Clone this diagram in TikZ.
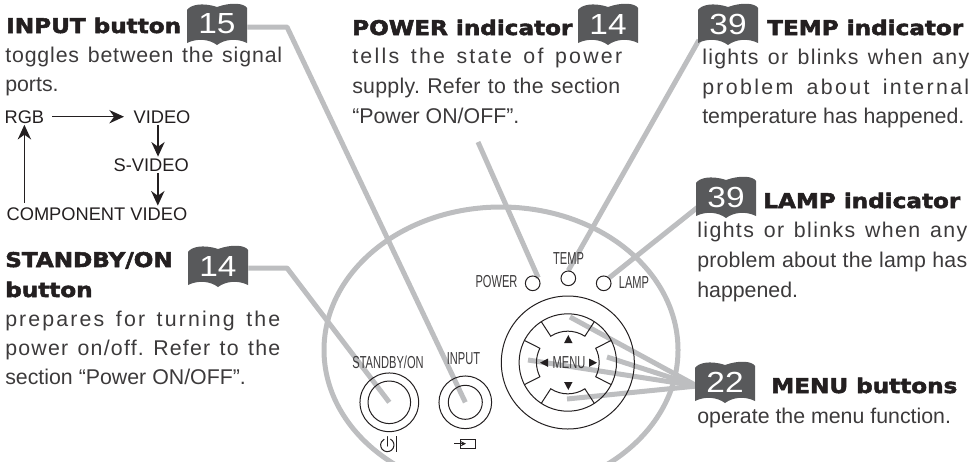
\documentclass[tikz,border=0pt]{standalone}
\usepackage{fontspec}
\setmainfont{Liberation Sans}
\newfontfamily\headfont[FakeStretch=1.14,FakeBold=2.6]{DejaVu Sans}
\newfontfamily\narrowfont[FakeStretch=0.64]{Liberation Sans}
\newfontfamily\numfont[FakeStretch=1.15]{Liberation Sans}
\usetikzlibrary{positioning, shapes, arrows.meta}
\usetikzlibrary{backgrounds}
\definecolor{leadergray}{HTML}{BDBEC0}
\definecolor{bookgray}{HTML}{58595B}
\definecolor{inkblack}{HTML}{231F20}
\definecolor{bodygray}{HTML}{3C3A3B}
% stretched line of body text: width in pixels, letter spacing, text
\newcommand{\jline}[3]{\makebox[\dimexpr #1pt*3/4\relax][s]{\addfontfeature{LetterSpace=#2}#3}}
\tikzset{
    headtext/.style={anchor=base west, inner sep=0pt, text=inkblack, font=\headfont\bfseries\fontsize{15.2}{15.2}\selectfont},
    bodytext/.style={anchor=base west, inner sep=0pt, text=bodygray, font=\frenchspacing\fontsize{16}{16}\selectfont},
    flowtext/.style={anchor=base west, inner sep=1pt, text=inkblack, font=\fontsize{13.7}{13.7}\selectfont},
    paneltext/.style={anchor=center, inner sep=0pt, text=bodygray, font=\narrowfont\fontsize{13}{13}\selectfont},
    booknum/.style={inner sep=0pt, minimum width=45pt, minimum height=32pt, text=white, font=\numfont\fontsize{21.8}{21.8}\selectfont},
    leader/.style={draw=leadergray, line width=3.75pt, line join=round},
    flowarrow/.style={draw=inkblack, line width=1.1pt, -{Stealth[length=11pt,width=10pt]}},
    led/.style={draw=inkblack, circle, line width=0.75pt, inner sep=0pt, minimum size=11pt},
    panel/.style={draw=inkblack, line width=0.75pt}
}
\begin{document}
\begin{tikzpicture}[x=0.75pt, y=-0.75pt]
    \useasboundingbox (0,0) rectangle (980,461);

    % Page reference books
    \foreach \bookname/\bookx/\booky/\booklabel in {bookinput/187/2/15, bookpower/578/2/14, booktemp/698/2/39, booklamp/696/175/39, bookmenu/695/360/22, bookstandby/188/244/14} {
        \begin{scope}[shift={(\bookx,\booky)}]
            \fill[bookgray] (0,41) -- (0,8) .. controls (3,3) and (15,0) .. (30,5) .. controls (44,0) and (57,1) .. (60,6) -- (60,41)
                .. controls (50,36) and (38,37) .. (30,43) .. controls (22,37) and (10,36) .. (0,41) -- cycle;
            \node[booknum] (\bookname) at (30,22) {\booklabel};
        \end{scope}
    }

    % Headings
    \node[headtext] (headinput) at (6,33) {INPUT button};
    \node[headtext] (headpower) at (352,35) {POWER indicator};
    \node[headtext] (headtemp) at (767,35) {TEMP indicator};
    \node[headtext] (headlamp) at (763,208) {LAMP indicator};
    \node[headtext] (headmenu) at (771,393) {MENU buttons};
    \node[headtext] (headstandby) at (5,267) {STANDBY/ON};
    \node[headtext] (headbutton) at (5,297) {button};

    % Descriptions
    \node[bodytext] (input1) at (5,62) {\jline{277}{4}{toggles between the signal}};
    \node[bodytext] (input2) at (5,91) {ports.};
    \node[bodytext] (power1) at (352,63) {\jline{270}{10.7}{tells the state of power}};
    \node[bodytext] (power2) at (352,93) {\jline{268}{1.3}{supply. Refer to the section}};
    \node[bodytext] (power3) at (352,123) {“Power ON/OFF”.};
    \node[bodytext] (temp1) at (702,64) {\jline{267}{6}{lights or blinks when any}};
    \node[bodytext] (temp2) at (702,94) {\jline{267}{11}{problem about internal}};
    \node[bodytext] (temp3) at (702,123) {temperature has happened.};
    \node[bodytext] (lamp1) at (697,237) {\jline{270}{6.5}{lights or blinks when any}};
    \node[bodytext] (lamp2) at (697,267) {\jline{270}{1}{problem about the lamp has}};
    \node[bodytext] (lamp3) at (697,297) {happened.};
    \node[bodytext] (menu1) at (697,423) {operate the menu function.};
    \node[bodytext] (standby1) at (5,326) {\jline{275}{10}{prepares for turning the}};
    \node[bodytext] (standby2) at (5,355) {\jline{275}{5.7}{power on/off. Refer to the}};
    \node[bodytext] (standby3) at (5,384) {section “Power ON/OFF”.};

    % Signal order
    \node[flowtext] (rgb) at (3,123) {RGB};
    \node[flowtext] (video) at (132,123) {VIDEO};
    \node[flowtext] (svideo) at (112,171) {S-VIDEO};
    \node[flowtext] (component) at (5,220) {COMPONENT VIDEO};
    \draw[flowarrow, shorten <=5pt, shorten >=6pt] (rgb) -- (video);
    \draw[flowarrow] ([xshift=-3pt]video.south) -- ([xshift=-3pt]video.south |- svideo.north);
    \draw[flowarrow] ([xshift=5pt]svideo.south) -- ([xshift=5pt]svideo.south |- component.north);
    \draw[flowarrow, shorten <=2pt] (rgb.south |- component.north) -- (rgb.south);

    % Control panel
    \node[paneltext] (labelpower) at (496.5,282) {POWER};
    \node[paneltext] (labeltemp) at (568.5,259) {TEMP};
    \node[paneltext] (labellamp) at (634,283) {LAMP};
    \node[paneltext] (labelstandby) at (388,362) {STANDBY/ON};
    \node[paneltext] (labelinput) at (463.5,359) {INPUT};
    \node[paneltext] (labelmenu) at (569,363) {MENU};

    \node[led] (powerled) at (532.7,283.3) {};
    \node[led] (templed) at (568.3,278.3) {};
    \node[led] (lampled) at (603.7,283.3) {};

    \node[panel, circle, inner sep=0pt, minimum size=44pt] (standbybtn) at (389.3,402.3) {};
    \draw[panel] (standbybtn) circle (21.3);
    \node[panel, circle, inner sep=0pt, minimum size=39.5pt] (inputbtn) at (465.3,402.3) {};
    \draw[panel] (inputbtn) circle (17);

    % Menu pad
    \node[panel, circle, inner sep=0pt, minimum size=99.75pt] (menupad) at (567.8,362.5) {};
    \draw[panel] (menupad) circle (48.7);
    \foreach \padangle/\padspan in {90/33, 270/33, 0/27, 180/27} {
        \draw[panel] ([shift={(\padangle-\padspan:36.5pt)}]menupad.center) -- ([shift={(\padangle-\padspan:23.5pt)}]menupad.center)
            arc[start angle=\padangle-\padspan, end angle=\padangle+\padspan, radius=23.5pt] -- ([shift={(\padangle+\padspan:36.5pt)}]menupad.center);
    }
    \fill[inkblack] (568.3,335) -- (572.5,343) -- (564.1,343) -- cycle;
    \fill[inkblack] (568.3,390) -- (572.5,382) -- (564.1,382) -- cycle;
    \fill[inkblack] (540,362.7) -- (548,358.5) -- (548,366.9) -- cycle;
    \fill[inkblack] (597,362.7) -- (589,358.5) -- (589,366.9) -- cycle;

    % Button symbols
    \draw[panel, line cap=round] (387.3,436.5) -- (387.3,446);
    \draw[panel] ([shift={(62:5pt)}]387.3,445) arc[start angle=62, end angle=-242, radius=5pt];
    \draw[panel] (396.7,436) -- (396.7,451.5);
    \draw[panel] (460,439) rectangle (475,448.3);
    \draw[panel, -{Stealth[length=4pt,width=4pt]}] (454.3,443.7) -- (466,443.7);

    % Leader lines and housing, behind the panel
    \begin{scope}[on background layer]
        \clip (0,0) rectangle (980,461);
        \draw[leader] (501,350) ellipse (177 and 143);
        \coordinate (turninput) at (287,27);
        \coordinate (turnstandby) at (287,268);
        \coordinate (menuhub) at (697,386);
        \draw[leader] (bookinput.east |- turninput) -- (turninput) -- (inputbtn.center);
        \draw[leader] (bookstandby.east |- turnstandby) -- (turnstandby) -- (standbybtn.center);
        \coordinate (powerstart) at (478,142);
        \draw[leader] (powerstart) -- (powerled.north east);
        \coordinate (tempstart) at (699,40);
        \draw[leader] (tempstart) -- (templed.north);
        \coordinate (lampstart) at (698,207);
        \draw[leader] (lampstart) -- (lampled.north east);
        \foreach \menuend in {(570,317), (607,357), (528,360), (567,399)} {
            \draw[leader] (menuhub) -- \menuend;
        }
    \end{scope}
\end{tikzpicture}
\end{document}
